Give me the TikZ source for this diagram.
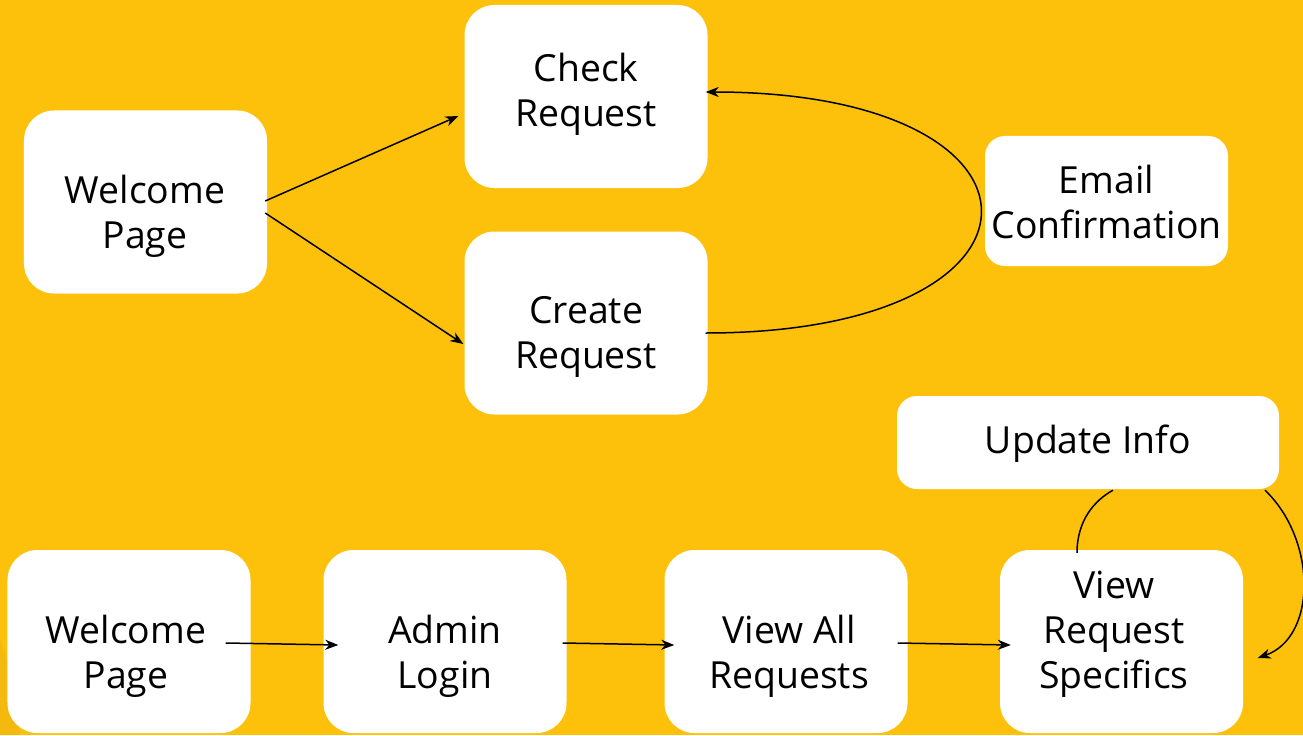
\documentclass[tikz,border=0pt]{standalone}
\usepackage{fontspec}
\setmainfont{Open Sans}
\usetikzlibrary{arrows.meta}
\definecolor{bgyellow}{HTML}{FDC10B}
\definecolor{shadeyellow}{HTML}{F3B90E}
\tikzset{
  box/.style={fill=white, rounded corners=30bp, inner sep=0pt},
  bigbox/.style={box, minimum width=243bp, minimum height=183bp},
  smallbox/.style={box, rounded corners=20bp},
  label text/.style={inner sep=0pt, align=center, text=black,
    font=\fontsize{37.5}{45}\selectfont},
  flow/.style={draw=black, line width=1.5bp, -{Stealth[length=13bp,width=10bp,inset=4bp]}},
  link/.style={draw=black, line width=1.5bp}
}
\begin{document}
\begin{tikzpicture}[x=1bp,y=-1bp]
  % background
  \fill[bgyellow] (0,0) rectangle (1303,735);
  \useasboundingbox (0,0) rectangle (1303,735);
  \fill[shadeyellow] (0,640) .. controls (12,670) and (16,700) .. (20,735) -- (0,735) -- cycle;

  % upper flow boxes
  \node[bigbox] (wp1) at (145.5,202) {};
  \node[bigbox] (check) at (586,96.5) {};
  \node[bigbox] (create) at (586,323) {};
  \node[smallbox, minimum width=243bp, minimum height=130bp] (email) at (1106.5,201) {};

  % lower flow boxes
  \node[smallbox, minimum width=382bp, minimum height=93bp] (update) at (1088,442.5) {};
  \node[bigbox] (wp2) at (129,641.5) {};
  \node[bigbox] (admin) at (445,641.5) {};
  \node[bigbox] (viewall) at (786,641.5) {};
  \node[bigbox] (viewspec) at (1121.5,641.5) {};

  % box captions
  \node[label text] (wp1-t) at ([shift={(-0.5,14.5)}]wp1.center) {Welcome\\Page};
  \node[label text] (check-t) at ([shift={(0,-2)}]check.center) {Check\\Request};
  \node[label text] (create-t) at ([shift={(0,14)}]create.center) {Create\\Request};
  \node[label text] (email-t) at ([shift={(0,1)}]email.center) {Email\\Confirmation};
  \node[label text] (update-t) at ([shift={(0,1)}]update.center) {Update Info};
  \node[label text] (wp2-t) at ([shift={(-3,14.5)}]wp2.center) {Welcome\\Page};
  \node[label text] (admin-t) at ([shift={(0,14.5)}]admin.center) {Admin\\Login};
  \node[label text] (viewall-t) at ([shift={(3,14.5)}]viewall.center) {View All\\Requests};
  \node[label text] (viewspec-t) at ([shift={(-7.5,-7)}]viewspec.center) {View\\Request\\Specifics};

  % connectors, upper flow
  \draw[flow] ([shift={(-2,-1)}]wp1.east) -- ([shift={(-6,19.5)}]check.west);
  \draw[flow] ([shift={(-2,11)}]wp1.east) -- ([shift={(-1,21)}]create.west);
  \draw[flow] ([shift={(-2,10)}]create.east)
    .. controls (1072,333) and (1072,92) .. ([shift={(-2,-4.5)}]check.east);

  % connectors, lower flow
  \draw[flow] ([shift={(-25,1.5)}]wp2.east) -- ([shift={(15,3.5)}]admin.west);
  \draw[flow] ([shift={(-4,1.5)}]admin.east) -- ([shift={(10,3.5)}]viewall.west);
  \draw[flow] ([shift={(-10,1.5)}]viewall.east) -- ([shift={(11,3.5)}]viewspec.west);
  \draw[link] ([shift={(-44.5,3)}]viewspec.north)
    .. controls (1077,520) and (1095,500) .. ([shift={(25,1)}]update.south);
  \draw[flow] ([shift={(177,1)}]update.south)
    .. controls (1317,540) and (1317,637) .. ([shift={(14.5,16.5)}]viewspec.east);
\end{tikzpicture}
\end{document}
